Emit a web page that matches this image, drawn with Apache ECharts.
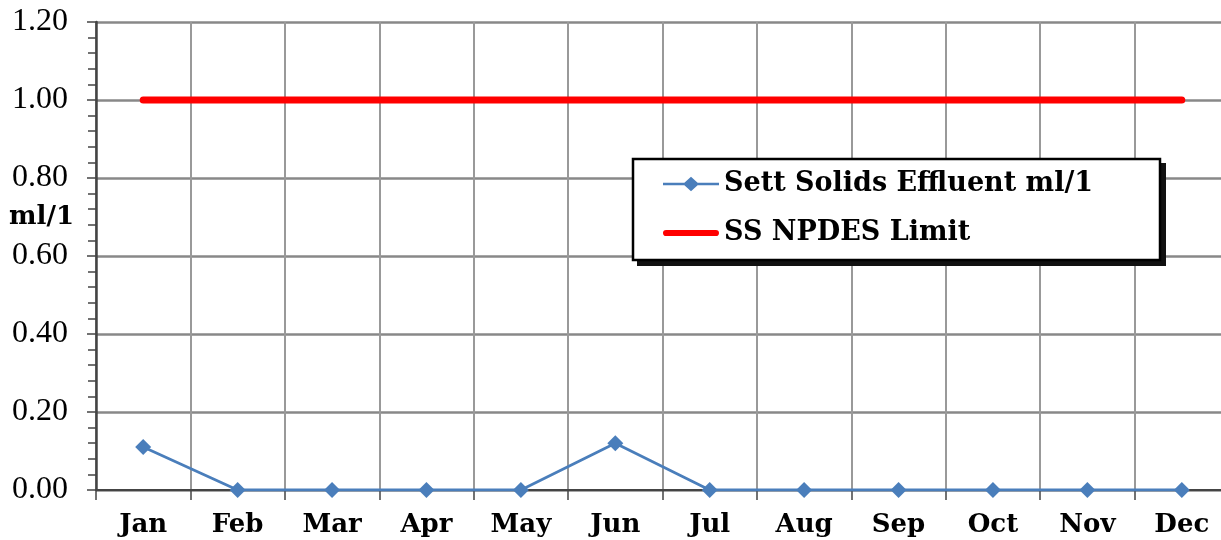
<!DOCTYPE html>
<html>
<head>
<meta charset="utf-8">
<script src="https://cdn.jsdelivr.net/npm/echarts@6/dist/echarts.min.js"></script>
<style>
  html, body { margin: 0; padding: 0; background: #fff; }
  #chart { width: 1221px; height: 540px; }
</style>
</head>
<body>
<div id="chart"></div>
<script>
const months = ['Jan', 'Feb', 'Mar', 'Apr', 'May', 'Jun', 'Jul', 'Aug', 'Sep', 'Oct', 'Nov', 'Dec'];
const settSolids = [0.11, 0, 0, 0, 0, 0.12, 0, 0, 0, 0, 0, 0];
const npdesLimit = [1, 1, 1, 1, 1, 1, 1, 1, 1, 1, 1, 1];

const boldSerif = '"DejaVu Serif", serif';

// legend icons: thin line with a diamond, and a thick bar
const iconDiamond = 'path://M0,6h56v2.5h-56z M20,7.25 L28,0 L36,7.25 L28,14.5z';
const iconThick = 'path://M0,0 M2,4h52a3,3 0 0 1 0,6.5h-52a3,3 0 0 1 0,-6.5z M56,14.5';

const chart = echarts.init(document.getElementById('chart'));

chart.setOption({
    animation: false,
    // the plot runs a little past the right edge of the picture
    grid: { left: 96, top: 22, width: 1133, bottom: 50, containLabel: false, outerBoundsMode: 'none' },
    graphic: [
        {
            type: 'rect',
            z: 10,
            shape: { x: 637, y: 163, width: 529, height: 103 },
            style: { fill: '#111' }
        },
        {
            type: 'rect',
            z: 11,
            shape: { x: 633, y: 159, width: 527, height: 101 },
            style: { fill: '#fff', stroke: '#000', lineWidth: 2.5 }
        },
        {
            type: 'text',
            left: 9,
            top: 204,
            style: { text: 'ml/1', font: 'bold 26px "DejaVu Serif", serif', fill: '#000' }
        }
    ],
    legend: {
        orient: 'vertical',
        left: 663,
        top: 170,
        z: 20,
        itemWidth: 56,
        itemHeight: 14.5,
        itemGap: 21,
        padding: 0,
        textStyle: { fontFamily: boldSerif, fontWeight: 'bold', fontSize: 27, lineHeight: 28, color: '#000' },
        data: [
            { name: 'Sett Solids Effluent ml/1', icon: iconDiamond },
            { name: 'SS NPDES Limit', icon: iconThick }
        ]
    },
    xAxis: {
        type: 'category',
        data: months,
        boundaryGap: true,
        axisLine: { lineStyle: { color: '#444', width: 2 } },
        axisTick: { show: true, interval: 0, length: 10, lineStyle: { color: '#444', width: 1.5 } },
        axisLabel: { interval: 0, margin: 22, fontFamily: boldSerif, fontWeight: 'bold', fontSize: 26, color: '#000' },
        splitLine: { show: true, interval: 0, lineStyle: { color: '#999', width: 2 } }
    },
    yAxis: {
        type: 'value',
        min: 0,
        max: 1.2,
        interval: 0.2,
        axisLine: { show: true, lineStyle: { color: '#444', width: 2.5 } },
        axisTick: { show: true, length: 9, lineStyle: { color: '#444', width: 1.5 } },
        minorTick: { show: true, splitNumber: 5, length: 8, lineStyle: { color: '#444', width: 1.5 } },
        axisLabel: {
            margin: 28,
            fontFamily: '"Liberation Serif", serif',
            fontSize: 32,
            color: '#000',
            formatter: (v) => v.toFixed(2)
        },
        splitLine: { show: true, lineStyle: { color: '#888', width: 2.5 } }
    },
    series: [
        {
            name: 'Sett Solids Effluent ml/1',
            type: 'line',
            data: settSolids,
            symbol: 'diamond',
            symbolSize: 16,
            color: '#4a7ebb',
            lineStyle: { color: '#4a7ebb', width: 2.8 },
            itemStyle: { color: '#4a7ebb' },
            z: 3
        },
        {
            name: 'SS NPDES Limit',
            type: 'line',
            data: npdesLimit,
            symbol: 'none',
            color: '#ff0000',
            lineStyle: { color: '#ff0000', width: 7, cap: 'round' },
            itemStyle: { color: '#ff0000' },
            z: 2
        }
    ]
});
</script>
</body>
</html>
